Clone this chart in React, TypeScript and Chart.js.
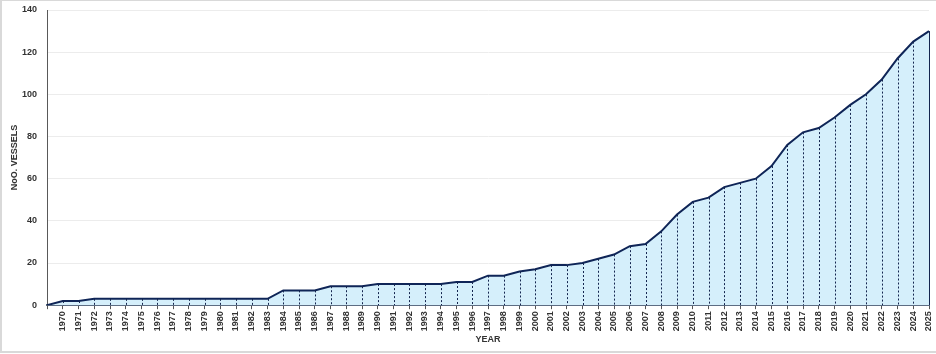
import React, { useEffect, useRef } from "react";
import { Chart, registerables } from "chart.js";

Chart.register(...registerables);

const years: string[] = [
  "", "1970", "1971", "1972", "1973", "1974", "1975", "1976", "1977", "1978", "1979",
  "1980", "1981", "1982", "1983", "1984", "1985", "1986", "1987", "1988", "1989",
  "1990", "1991", "1992", "1993", "1994", "1995", "1996", "1997", "1998", "1999",
  "2000", "2001", "2002", "2003", "2004", "2005", "2006", "2007", "2008", "2009",
  "2010", "2011", "2012", "2013", "2014", "2015", "2016", "2017", "2018", "2019",
  "2020", "2021", "2022", "2023", "2024", "2025",
];

const vessels: number[] = [
  0, 2, 2, 3, 3, 3, 3, 3, 3, 3, 3,
  3, 3, 3, 3, 7, 7, 7, 9, 9, 9,
  10, 10, 10, 10, 10, 11, 11, 14, 14, 16,
  17, 19, 19, 20, 22, 24, 28, 29, 35, 43,
  49, 51, 56, 58, 60, 66, 76, 82, 84, 89,
  95, 100, 107, 117, 125, 130,
];

const yTicks: number[] = [0, 20, 40, 60, 80, 100, 120, 140];

const dropLines = {
  id: "dropLines",
  afterDatasetsDraw(chart: any) {
    const meta = chart.getDatasetMeta(0);
    const ctx = chart.ctx;
    const bottom = chart.chartArea.bottom;
    ctx.save();
    ctx.strokeStyle = "#14254f";
    ctx.lineWidth = 1;
    meta.data.forEach((pt: any, i: number) => {
      if (i === 0) return;
      const last = i === meta.data.length - 1;
      ctx.setLineDash(last ? [] : [2, 2]);
      const x = Math.round(pt.x) + 0.5;
      ctx.beginPath();
      ctx.moveTo(x, pt.y);
      ctx.lineTo(x, bottom);
      ctx.stroke();
    });
    ctx.restore();
  },
};

export default function App() {
  const ref = useRef<HTMLCanvasElement | null>(null);

  useEffect(() => {
    document.body.style.margin = "0";
    const canvas = ref.current;
    if (!canvas) return;
    const tickFont = { family: "'Liberation Sans', Arial, sans-serif", size: 9, weight: "bold" as const };
    const chart = new Chart(canvas, {
      type: "line",
      data: {
        labels: years,
        datasets: [
          {
            data: vessels,
            borderColor: "#0f2557",
            borderWidth: 2,
            backgroundColor: "#d5effb",
            fill: "origin",
            pointRadius: 0,
            tension: 0,
          },
        ],
      },
      plugins: [dropLines],
      options: {
        animation: false,
        responsive: false,
        maintainAspectRatio: false,
        layout: { padding: { left: 2, right: 7, top: 10, bottom: 9 } },
        plugins: {
          legend: { display: false },
          tooltip: { enabled: false },
        },
        scales: {
          x: {
            offset: false,
            afterFit(s: any) {
              s.paddingLeft = 0;
              s.paddingRight = 0;
            },
            border: { display: true, color: "#5b6b82", width: 2 },
            grid: { drawOnChartArea: false, drawTicks: true, tickLength: 4, color: "#555" },
            ticks: {
              autoSkip: false,
              maxRotation: 90,
              minRotation: 90,
              color: "#333333",
              font: tickFont,
              padding: 2,
            },
            title: {
              display: true,
              text: "YEAR",
              color: "#333333",
              font: tickFont,
              padding: { top: 1, bottom: 0 },
            },
          },
          y: {
            min: 0,
            max: 140,
            afterBuildTicks(scale: any) {
              scale.ticks = yTicks.map((v) => ({ value: v }));
            },
            afterFit(s: any) {
              s.width = 45;
              s.paddingTop = 0;
              s.paddingBottom = 0;
            },
            border: { display: true, color: "#595959", width: 1 },
            grid: { color: "#ececec", drawTicks: false },
            ticks: {
              color: "#333333",
              font: tickFont,
              padding: 10,
            },
            title: {
              display: true,
              text: "NoO. VESSELS",
              color: "#333333",
              font: tickFont,
              padding: { top: 7, bottom: 0 },
            },
          },
        },
      },
    });
    return () => chart.destroy();
  }, []);

  return (
    <div
      style={{
        position: "relative",
        width: 936,
        height: 354,
        background: "#fff",
        overflow: "hidden",
      }}
    >
      <canvas
        ref={ref}
        width={936}
        height={354}
        style={{ display: "block", position: "absolute", left: 0, top: 0 }}
      />
      <div
        style={{
          position: "absolute",
          left: 0,
          top: 0,
          width: 936,
          height: 353,
          boxSizing: "border-box",
          borderLeft: "2px solid #d9d9d9",
          borderTop: "1px solid #d9d9d9",
          borderBottom: "2px solid #d9d9d9",
          pointerEvents: "none",
        }}
      />
    </div>
  );
}
